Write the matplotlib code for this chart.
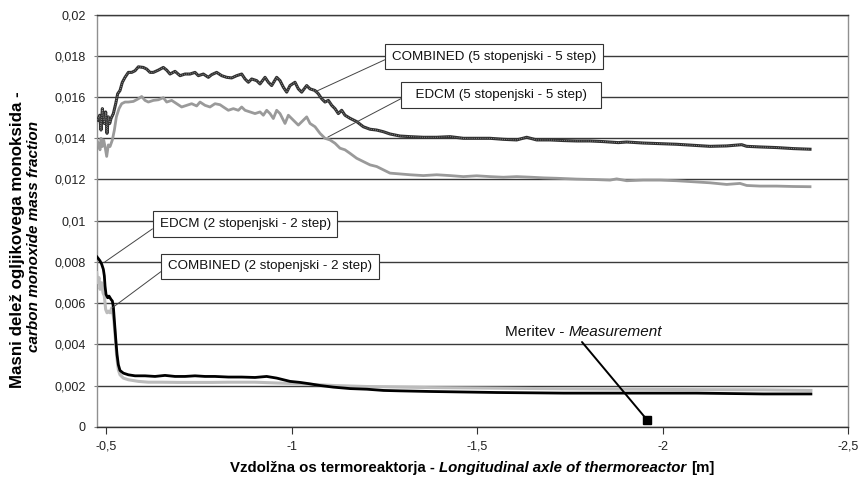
import matplotlib
matplotlib.use("Agg")
import matplotlib.pyplot as plt
from matplotlib.offsetbox import TextArea, HPacker, AnchoredOffsetbox, AnnotationBbox

plt.rcParams['font.family'] = ['Liberation Sans', 'DejaVu Sans']

# ---------------- data ----------------
comb5_x = [-0.4775, -0.4829, -0.4865, -0.4901, -0.4955, -0.4991, -0.5027, -0.5063, -0.5099, -0.5135,
           -0.5198, -0.5261, -0.5314, -0.5377, -0.5440, -0.5512, -0.5602, -0.5692, -0.5782, -0.5872,
           -0.6006, -0.6096, -0.6186, -0.6276, -0.6411, -0.6545, -0.6635, -0.6725, -0.6860, -0.6995,
           -0.7129, -0.7264, -0.7399, -0.7489, -0.7624, -0.7758, -0.7848, -0.7983, -0.8118, -0.8252,
           -0.8387, -0.8522, -0.8657, -0.8747, -0.8837, -0.8926, -0.9061, -0.9151, -0.9286, -0.9376,
           -0.9465, -0.9600, -0.9690, -0.9780, -0.9870, -0.9960, -1.0094, -1.0184, -1.0274, -1.0409,
           -1.0499, -1.0634, -1.0723, -1.0813, -1.0903, -1.0993, -1.1083, -1.1172, -1.1262, -1.1352,
           -1.1442, -1.1577, -1.1757, -1.1936, -1.2116, -1.2296, -1.2475, -1.2655, -1.2925, -1.3194,
           -1.3553, -1.3913, -1.4272, -1.4632, -1.4991, -1.5351, -1.5710, -1.6069, -1.6339, -1.6608,
           -1.6968, -1.7327, -1.7687, -1.8046, -1.8405, -1.8810, -1.9034, -1.9483, -1.9933, -2.0382,
           -2.0831, -2.1280, -2.1730, -2.2134, -2.2269, -2.2628, -2.3077, -2.3526, -2.3976]
comb5_y = [0.01488, 0.01512, 0.01440, 0.01544, 0.01472, 0.01528, 0.01424, 0.01504, 0.01472, 0.01496,
           0.01520, 0.01568, 0.01616, 0.01632, 0.01672, 0.01696, 0.01720, 0.01720, 0.01728, 0.01747,
           0.01744, 0.01736, 0.01720, 0.01720, 0.01731, 0.01744, 0.01731, 0.01712, 0.01725, 0.01704,
           0.01712, 0.01712, 0.01720, 0.01704, 0.01712, 0.01696, 0.01709, 0.01720, 0.01704, 0.01696,
           0.01693, 0.01704, 0.01712, 0.01688, 0.01672, 0.01688, 0.01680, 0.01664, 0.01696, 0.01672,
           0.01656, 0.01696, 0.01680, 0.01648, 0.01624, 0.01656, 0.01672, 0.01640, 0.01624, 0.01656,
           0.01640, 0.01632, 0.01616, 0.01592, 0.01576, 0.01584, 0.01560, 0.01544, 0.01520, 0.01536,
           0.01512, 0.01497, 0.01481, 0.01456, 0.01444, 0.01440, 0.01432, 0.01421, 0.01411, 0.01408,
           0.01405, 0.01405, 0.01408, 0.01400, 0.01400, 0.01400, 0.01395, 0.01392, 0.01405, 0.01392,
           0.01392, 0.01389, 0.01387, 0.01387, 0.01384, 0.01379, 0.01382, 0.01377, 0.01374, 0.01371,
           0.01366, 0.01361, 0.01363, 0.01369, 0.01361, 0.01358, 0.01355, 0.01350, 0.01347]

edcm5_x = [-0.4748, -0.4793, -0.4838, -0.4865, -0.4901, -0.4937, -0.4973, -0.5018, -0.5063, -0.5108,
           -0.5171, -0.5225, -0.5279, -0.5350, -0.5422, -0.5512, -0.5602, -0.5737, -0.5872, -0.5961,
           -0.6051, -0.6141, -0.6276, -0.6411, -0.6545, -0.6635, -0.6770, -0.6905, -0.7039, -0.7174,
           -0.7309, -0.7444, -0.7534, -0.7669, -0.7803, -0.7938, -0.8073, -0.8163, -0.8297, -0.8432,
           -0.8567, -0.8657, -0.8747, -0.8882, -0.9016, -0.9151, -0.9241, -0.9331, -0.9421, -0.9510,
           -0.9600, -0.9690, -0.9825, -0.9915, -1.0049, -1.0184, -1.0319, -1.0409, -1.0499, -1.0634,
           -1.0768, -1.0903, -1.1038, -1.1172, -1.1307, -1.1442, -1.1577, -1.1757, -1.1936, -1.2116,
           -1.2296, -1.2475, -1.2655, -1.2925, -1.3194, -1.3553, -1.3913, -1.4272, -1.4632, -1.4991,
           -1.5351, -1.5710, -1.6069, -1.6465, -1.6788, -1.7148, -1.7687, -1.8136, -1.8585, -1.8765,
           -1.9034, -1.9483, -1.9933, -2.0382, -2.0831, -2.1280, -2.1730, -2.2089, -2.2269, -2.2628,
           -2.3077, -2.3526, -2.3976]
edcm5_y = [0.01392, 0.01376, 0.01344, 0.01400, 0.01360, 0.01392, 0.01360, 0.01312, 0.01368, 0.01360,
           0.01392, 0.01440, 0.01504, 0.01544, 0.01568, 0.01576, 0.01576, 0.01579, 0.01592, 0.01603,
           0.01584, 0.01576, 0.01584, 0.01587, 0.01597, 0.01576, 0.01584, 0.01568, 0.01552, 0.01560,
           0.01568, 0.01557, 0.01576, 0.01560, 0.01552, 0.01568, 0.01563, 0.01552, 0.01536, 0.01544,
           0.01536, 0.01552, 0.01536, 0.01528, 0.01520, 0.01528, 0.01512, 0.01536, 0.01520, 0.01496,
           0.01536, 0.01520, 0.01472, 0.01512, 0.01488, 0.01464, 0.01488, 0.01504, 0.01472, 0.01456,
           0.01424, 0.01400, 0.01392, 0.01376, 0.01352, 0.01344, 0.01327, 0.01303, 0.01287, 0.01271,
           0.01263, 0.01247, 0.01231, 0.01227, 0.01223, 0.01219, 0.01223, 0.01219, 0.01214, 0.01218,
           0.01214, 0.01211, 0.01214, 0.01211, 0.01208, 0.01206, 0.01202, 0.01200, 0.01197, 0.01203,
           0.01194, 0.01197, 0.01197, 0.01194, 0.01189, 0.01184, 0.01176, 0.01181, 0.01171, 0.01168,
           0.01168, 0.01166, 0.01165]

edcm2_x = [-0.4748, -0.4793, -0.4838, -0.4883, -0.4928, -0.4955, -0.4973, -0.5000, -0.5045, -0.5081,
           -0.5135, -0.5171, -0.5198, -0.5216, -0.5243, -0.5270, -0.5297, -0.5332, -0.5377, -0.5467,
           -0.5602, -0.5782, -0.6051, -0.6321, -0.6590, -0.6860, -0.7129, -0.7399, -0.7669, -0.7938,
           -0.8297, -0.8657, -0.9016, -0.9330, -0.9600, -0.9780, -0.9960, -1.0230, -1.0500, -1.0770,
           -1.1130, -1.1580, -1.2030, -1.2480, -1.2920, -1.3730, -1.5530, -1.7330, -1.9120, -2.0920,
           -2.2720, -2.4000]
edcm2_y = [0.00826, 0.00816, 0.00805, 0.00789, 0.00764, 0.00732, 0.00683, 0.00642, 0.00626, 0.00634,
           0.00618, 0.00610, 0.00582, 0.00537, 0.00472, 0.00407, 0.00350, 0.00301, 0.00273, 0.00260,
           0.00252, 0.00247, 0.00247, 0.00244, 0.00249, 0.00244, 0.00244, 0.00247, 0.00244, 0.00244,
           0.00241, 0.00241, 0.00239, 0.00244, 0.00236, 0.00228, 0.00220, 0.00215, 0.00208, 0.00200,
           0.00192, 0.00185, 0.00182, 0.00176, 0.00174, 0.00171, 0.00166, 0.00163, 0.00163, 0.00163,
           0.00159, 0.00159]

comb2_x = [-0.4748, -0.4775, -0.4811, -0.4838, -0.4883, -0.4919, -0.4955, -0.4991, -0.5027, -0.5063,
           -0.5108, -0.5153, -0.5198, -0.5225, -0.5261, -0.5288, -0.5332, -0.5377, -0.5467, -0.5602,
           -0.5872, -0.6141, -0.6500, -0.6950, -0.7399, -0.7848, -0.8297, -0.9016, -1.0230, -1.1130,
           -1.2030, -1.3640, -1.5530, -1.7330, -1.9120, -2.0920, -2.2720, -2.4000]
comb2_y = [0.00748, 0.00699, 0.00724, 0.00667, 0.00699, 0.00650, 0.00634, 0.00569, 0.00553, 0.00561,
           0.00553, 0.00577, 0.00537, 0.00488, 0.00407, 0.00341, 0.00276, 0.00252, 0.00236, 0.00228,
           0.00220, 0.00216, 0.00216, 0.00215, 0.00215, 0.00215, 0.00216, 0.00216, 0.00208, 0.00200,
           0.00195, 0.00190, 0.00187, 0.00184, 0.00182, 0.00180, 0.00179, 0.00176]

meas_x = [-1.958]
meas_y = [0.00034]

y_ticks = [0, 0.002, 0.004, 0.006, 0.008, 0.01, 0.012, 0.014, 0.016, 0.018, 0.02]
y_tick_labels = ["0", "0,002", "0,004", "0,006", "0,008", "0,01", "0,012", "0,014", "0,016", "0,018", "0,02"]
x_ticks = [-0.5, -1.0, -1.5, -2.0, -2.5]
x_tick_labels = ["-0,5", "-1", "-1,5", "-2", "-2,5"]

labels = ["COMBINED (5 stopenjski - 5 step)", "  EDCM (5 stopenjski - 5 step)  ",
          "EDCM (2 stopenjski - 2 step)", "COMBINED (2 stopenjski - 2 step)"]
label_points = [(-1.063, 0.01625), (-1.098, 0.01406), (-0.497, 0.0080), (-0.516, 0.00576)]
label_pos = [(-1.546, 0.01797), (-1.565, 0.0161), (-0.875, 0.00984), (-0.942, 0.00778)]

# ---------------- figure ----------------
fig = plt.figure(figsize=(8.59, 4.80), dpi=100)
ax = fig.add_axes([97 / 859, 1 - 426.7 / 480, (848 - 97) / 859, (426.7 - 14.7) / 480])

ax.set_xlim(-0.4757, -2.5)
ax.set_ylim(0, 0.02)

ax.set_yticks(y_ticks)
ax.set_yticklabels(y_tick_labels)
ax.set_xticks(x_ticks)
ax.set_xticklabels(x_tick_labels)
ax.tick_params(axis='y', length=2, width=0.8, color='#808080', pad=6, labelsize=9, labelcolor='#222222')
ax.tick_params(axis='x', length=5, width=0.8, color='#333333', pad=5, labelsize=9, labelcolor='#222222')

ax.grid(axis='y', color='#3a3a3a', linewidth=1.0)
ax.set_axisbelow(True)
for side in ['left', 'right']:
    ax.spines[side].set_color('#909090')
    ax.spines[side].set_linewidth(1.0)
ax.spines['top'].set_color('#3a3a3a')
ax.spines['top'].set_linewidth(1.0)
ax.spines['bottom'].set_color('#333333')
ax.spines['bottom'].set_linewidth(1.0)

# curves
ax.plot(edcm5_x, edcm5_y, color='#9a9a9a', lw=2.0, zorder=3)
ax.plot(comb5_x, comb5_y, color='#303030', lw=2.2, zorder=4)
ax.plot(comb5_x, comb5_y, color='#a0a0a0', lw=0.6, ls=(0, (1, 1.6)), zorder=5)
ax.plot(comb2_x, comb2_y, color='#bcbcbc', lw=2.2, zorder=3)
ax.plot(edcm2_x, edcm2_y, color='#000000', lw=2.0, zorder=4)
ax.plot(meas_x, meas_y, ls='none', marker='s', ms=5.5, color='black', zorder=6)

# boxed labels with leader lines
for txt, pt, pos in zip(labels, label_points, label_pos):
    ax.annotate(txt, xy=pt, xytext=pos, xycoords='data', textcoords='data',
                ha='center', va='center', fontsize=9.6, color='#111111', zorder=10,
                bbox=dict(boxstyle='square,pad=0.5', fc='white', ec='#333333', lw=0.8),
                arrowprops=dict(arrowstyle='-', color='#444444', lw=0.7, relpos=(0, 0.5),
                                shrinkA=0, shrinkB=0))

# measurement label
mtxt = HPacker(children=[TextArea("Meritev -", textprops=dict(fontsize=11, color='#111111')),
                         TextArea("Measurement", textprops=dict(fontsize=11, color='#111111', style='italic'))],
               align='baseline', pad=0, sep=3)
ab = AnnotationBbox(mtxt, (-1.788, 0.00459), xycoords='data', frameon=False, box_alignment=(0.5, 0.5))
ax.add_artist(ab)
ax.annotate('', xy=(meas_x[0], meas_y[0]), xytext=(-1.783, 0.00411),
            arrowprops=dict(arrowstyle='-', color='black', lw=1.4, shrinkA=0, shrinkB=0), zorder=7)

# x label (mixed styles)
xl = HPacker(children=[TextArea("Vzdolžna os termoreaktorja -", textprops=dict(fontsize=10.8, fontweight='bold')),
                       TextArea("Longitudinal axle of thermoreactor", textprops=dict(fontsize=10.8, fontweight='bold', style='italic')),
                       TextArea("[m]", textprops=dict(fontsize=10.8, fontweight='bold'))],
             align='baseline', pad=0, sep=3.2)
aob = AnchoredOffsetbox(loc='center', child=xl, bbox_to_anchor=(472 / 859, 1 - 468 / 480),
                        bbox_transform=fig.transFigure, frameon=False, pad=0, borderpad=0)
fig.add_artist(aob)

# y label (two lines)
fig.text(18 / 859, 1 - 240 / 480, "Masni delež ogljikovega monoksida -", rotation=90,
         ha='center', va='center', fontsize=12.2, fontweight='bold')
fig.text(34 / 859, 1 - 236 / 480, "carbon monoxide mass fraction", rotation=90,
         ha='center', va='center', fontsize=11, fontweight='bold', style='italic')

fig.savefig("out.png", dpi=100)
